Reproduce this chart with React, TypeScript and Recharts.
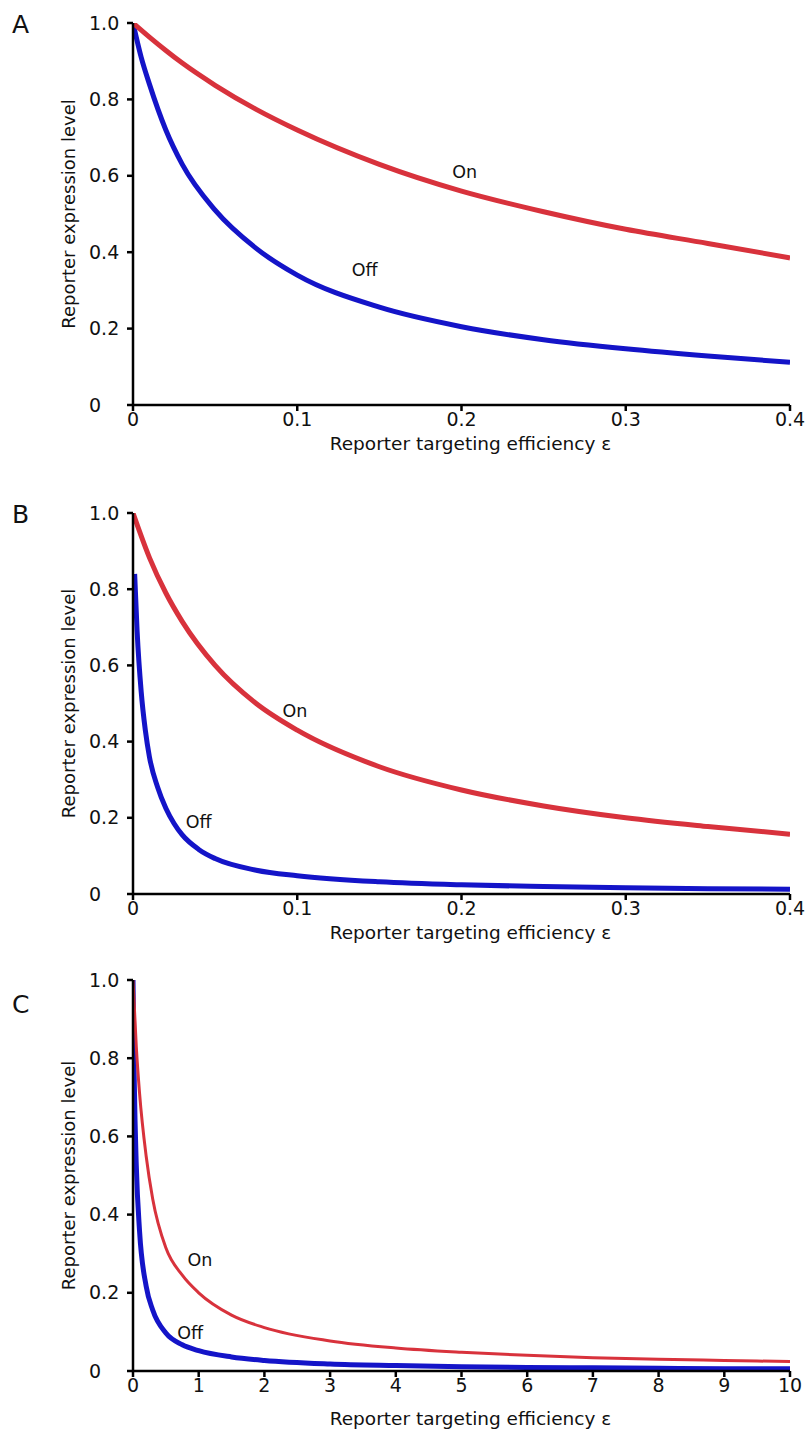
import { LineChart, Line, XAxis, YAxis, ReferenceDot } from 'recharts'

const yTicks = [0, 0.2, 0.4, 0.6, 0.8, 1.0]
const xTicksAB = [0, 0.1, 0.2, 0.3, 0.4]
const xTicksC = [0, 1, 2, 3, 4, 5, 6, 7, 8, 9, 10]

// panel A
const aOnX = [0, 0.01, 0.02, 0.03, 0.05, 0.075, 0.1, 0.15, 0.2, 0.25, 0.3, 0.35, 0.4]
const aOnY = [1.0, 0.963, 0.928, 0.895, 0.837, 0.774, 0.72, 0.63, 0.56, 0.506, 0.46, 0.423, 0.385]
const aOffX = [0, 0.005, 0.01, 0.02, 0.03, 0.05, 0.075, 0.1, 0.15, 0.2, 0.25, 0.3, 0.35, 0.4]
const aOffY = [1.0, 0.91, 0.84, 0.72, 0.63, 0.51, 0.41, 0.34, 0.256, 0.205, 0.171, 0.147, 0.128, 0.112]

// panel B
const bOnX = [0, 0.01, 0.02, 0.03, 0.05, 0.075, 0.1, 0.15, 0.2, 0.25, 0.3, 0.35, 0.4]
const bOnY = [1.0, 0.883, 0.79, 0.715, 0.6, 0.5, 0.43, 0.334, 0.273, 0.231, 0.2, 0.177, 0.157]
const bOffX = [0.001, 0.0025, 0.005, 0.0075, 0.01, 0.015, 0.02, 0.025, 0.03, 0.04, 0.05, 0.075, 0.1, 0.15, 0.2, 0.25, 0.3, 0.35, 0.4]
const bOffY = [0.84, 0.69, 0.53, 0.43, 0.36, 0.28, 0.225, 0.185, 0.155, 0.117, 0.093, 0.0625, 0.048, 0.032, 0.024, 0.0196, 0.0164, 0.014, 0.0123]

// panel C
const cOnX = [0, 0.05, 0.1, 0.2, 0.3, 0.5, 0.75, 1, 1.5, 2, 3, 4, 5, 6, 7, 8, 9, 10]
const cOnY = [1.0, 0.83, 0.71, 0.55, 0.44, 0.315, 0.245, 0.2, 0.143, 0.111, 0.077, 0.059, 0.048, 0.04, 0.034, 0.03, 0.027, 0.024]
const cOffX = [0, 0.02, 0.05, 0.1, 0.2, 0.3, 0.5, 0.75, 1, 1.5, 2, 3, 4, 5, 6, 7, 8, 9, 10]
const cOffY = [1.0, 0.735, 0.526, 0.357, 0.217, 0.156, 0.097, 0.067, 0.052, 0.036, 0.027, 0.018, 0.014, 0.011, 0.009, 0.008, 0.007, 0.006, 0.0055]

const RED = '#d8323c'
const BLUE = '#1414c8'
const FONT = 'DejaVu Sans'

const pts = (xs: number[], ys: number[]) => xs.map((x, i) => ({ x, y: ys[i] }))
const fmt = (v: number) => (v === 0 ? '0' : v.toFixed(1))
const fmtC = (v: number) => String(v)

const YTick = (props: any) => {
  const { y, payload } = props
  return (
    <text x={89} y={y} dy={6.5} textAnchor="start" fontSize={19} fill="#111" fontFamily={FONT}>
      {fmt(payload.value)}
    </text>
  )
}

interface PanelProps {
  top: number
  height: number
  xHeight: number
  titleOffset: number
  letter: string
  letterY: number
  xMax: number
  xTicks: number[]
  xFmt: (v: number) => string
  on: { x: number; y: number }[]
  off: { x: number; y: number }[]
  onW: number
  offW: number
  onLabel: [number, number]
  offLabel: [number, number]
}

function Panel(p: PanelProps) {
  const axisStyle = { stroke: '#000', strokeWidth: 2.5 }
  const tickStyle = { fontSize: 19, fill: '#111', fontFamily: FONT }
  const noteStyle = { fontSize: 17.5, fill: '#111', fontFamily: FONT }
  return (
    <div style={{ position: 'absolute', left: 0, top: p.top, width: 810, height: p.height }}>
      <div style={{ position: 'absolute', left: 12, top: p.letterY, fontFamily: FONT, fontSize: 25, color: '#111', lineHeight: 'normal' }}>
        {p.letter}
      </div>
      <LineChart width={810} height={p.height} margin={{ top: 23, right: 20, left: 0, bottom: 6 }}>
        <XAxis
          type="number"
          dataKey="x"
          domain={[0, p.xMax]}
          ticks={p.xTicks}
          tickFormatter={p.xFmt}
          axisLine={axisStyle}
          tickLine={axisStyle}
          tickSize={6}
          tickMargin={2}
          tick={tickStyle}
          height={p.xHeight}
          allowDataOverflow
          label={{ value: 'Reporter targeting efficiency ε', position: 'insideBottom', offset: p.titleOffset, dx: 9, style: { fontSize: 18.5, fill: '#111', fontFamily: FONT } }}
        />
        <YAxis
          type="number"
          dataKey="y"
          domain={[0, 1]}
          ticks={yTicks}
          axisLine={axisStyle}
          tickLine={axisStyle}
          tickSize={6}
          tick={<YTick />}
          width={133}
          allowDataOverflow
          label={{ value: 'Reporter expression level', angle: -90, position: 'insideLeft', offset: 69, style: { textAnchor: 'middle', fontSize: 18, fill: '#111', fontFamily: FONT } }}
        />
        <Line data={p.off} dataKey="y" type="monotone" stroke={BLUE} strokeWidth={p.offW} dot={false} isAnimationActive={false} />
        <Line data={p.on} dataKey="y" type="monotone" stroke={RED} strokeWidth={p.onW} dot={false} isAnimationActive={false} />
        <ReferenceDot x={p.onLabel[0]} y={p.onLabel[1]} r={0} fill="none" stroke="none"
          label={{ value: 'On', position: 'center', style: noteStyle }} />
        <ReferenceDot x={p.offLabel[0]} y={p.offLabel[1]} r={0} fill="none" stroke="none"
          label={{ value: 'Off', position: 'center', style: noteStyle }} />
      </LineChart>
    </div>
  )
}

export default function App() {
  return (
    <div style={{ position: 'absolute', left: 0, top: 0, width: 810, height: 1431, background: '#fff' }}>
      <Panel top={0} height={461} xHeight={50} titleOffset={5} letter="A" letterY={10} xMax={0.4} xTicks={xTicksAB} xFmt={fmt}
        on={pts(aOnX, aOnY)} off={pts(aOffX, aOffY)} onW={5} offW={5}
        onLabel={[0.202, 0.61]} offLabel={[0.141, 0.355]} />
      <Panel top={490} height={460} xHeight={50} titleOffset={5} letter="B" letterY={10} xMax={0.4} xTicks={xTicksAB} xFmt={fmt}
        on={pts(bOnX, bOnY)} off={pts(bOffX, bOffY)} onW={5} offW={5}
        onLabel={[0.0986, 0.48]} offLabel={[0.04, 0.19]} />
      <Panel top={957} height={474} xHeight={54} titleOffset={0} letter="C" letterY={33} xMax={10} xTicks={xTicksC} xFmt={fmtC}
        on={pts(cOnX, cOnY)} off={pts(cOffX, cOffY)} onW={3} offW={5}
        onLabel={[1.02, 0.284]} offLabel={[0.87, 0.099]} />
    </div>
  )
}
